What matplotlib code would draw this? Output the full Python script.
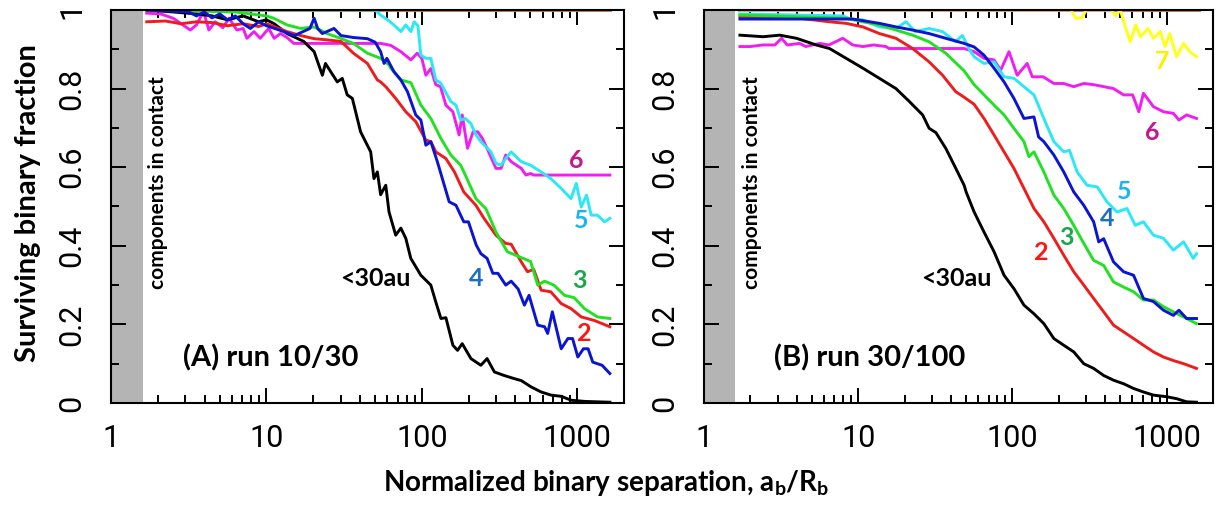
import numpy as np
import matplotlib
matplotlib.use("Agg")
import matplotlib.pyplot as plt
from matplotlib.ticker import LogLocator, MultipleLocator, NullFormatter, FixedLocator, FixedFormatter

plt.rcParams['font.family'] = ['Lato', 'DejaVu Sans']
plt.rcParams['mathtext.fontset'] = 'custom'
plt.rcParams['mathtext.bf'] = 'Lato:bold'
plt.rcParams['mathtext.rm'] = 'Lato:bold'
plt.rcParams['mathtext.it'] = 'Lato:bold'

# ---------------- data: log10(a_b/R_b) and surviving fraction ----------------
# Panel A: run 10/30
a_black_lx = [0.23, 0.4, 0.55, 0.65, 0.75, 0.85, 0.95, 1.0, 1.05, 1.133, 1.24, 1.307, 1.36, 1.38, 1.456, 1.488, 1.52, 1.553, 1.606, 1.671, 1.692, 1.714, 1.735, 1.768, 1.789, 1.832, 1.865, 1.897, 1.929, 1.994, 2.058, 2.09, 2.123, 2.155, 2.2, 2.23, 2.26, 2.316, 2.38, 2.42, 2.467, 2.53, 2.595, 2.64, 2.703, 2.768, 2.832, 2.897, 2.961, 3.05, 3.21]
a_black_y = [1.0, 0.995, 0.99, 0.985, 0.975, 0.985, 0.97, 0.975, 0.965, 0.94, 0.92, 0.894, 0.834, 0.864, 0.817, 0.826, 0.784, 0.775, 0.69, 0.639, 0.571, 0.588, 0.53, 0.554, 0.486, 0.427, 0.445, 0.419, 0.368, 0.325, 0.30, 0.257, 0.215, 0.217, 0.147, 0.134, 0.151, 0.113, 0.096, 0.113, 0.079, 0.07, 0.062, 0.057, 0.041, 0.028, 0.02, 0.017, 0.007, 0.004, 0.002]

a_red_lx = [0.23, 0.35, 0.45, 0.55, 0.65, 0.75, 0.85, 0.95, 1.0, 1.133, 1.22, 1.307, 1.39, 1.48, 1.56, 1.65, 1.714, 1.735, 1.77, 1.832, 1.897, 1.961, 2.026, 2.058, 2.09, 2.155, 2.21, 2.27, 2.348, 2.4, 2.477, 2.54, 2.575, 2.64, 2.68, 2.72, 2.768, 2.83, 2.897, 2.961, 3.026, 3.11, 3.21]
a_red_y = [0.97, 0.972, 0.965, 0.97, 0.968, 0.96, 0.965, 0.958, 0.965, 0.945, 0.935, 0.927, 0.924, 0.92, 0.89, 0.864, 0.822, 0.817, 0.804, 0.775, 0.741, 0.716, 0.669, 0.665, 0.639, 0.622, 0.588, 0.537, 0.503, 0.47, 0.427, 0.406, 0.404, 0.359, 0.334, 0.34, 0.287, 0.283, 0.253, 0.24, 0.219, 0.21, 0.194]

a_green_lx = [0.23, 0.8, 0.9, 1.0, 1.047, 1.133, 1.22, 1.307, 1.39, 1.477, 1.56, 1.65, 1.735, 1.79, 1.8, 1.865, 1.93, 1.994, 2.058, 2.123, 2.187, 2.25, 2.28, 2.348, 2.413, 2.477, 2.55, 2.64, 2.70, 2.746, 2.79, 2.85, 2.918, 2.98, 3.047, 3.13, 3.21]
a_green_y = [1.0, 0.995, 0.99, 0.985, 0.979, 0.962, 0.953, 0.957, 0.94, 0.928, 0.915, 0.89, 0.877, 0.86, 0.852, 0.822, 0.815, 0.758, 0.724, 0.673, 0.631, 0.605, 0.58, 0.52, 0.494, 0.435, 0.385, 0.37, 0.36, 0.30, 0.31, 0.30, 0.274, 0.268, 0.24, 0.219, 0.215]

a_blue_lx = [0.23, 0.5, 0.55, 0.6, 0.65, 0.7, 0.75, 0.8, 0.85, 0.897, 0.95, 1.0, 1.09, 1.18, 1.28, 1.307, 1.33, 1.36, 1.435, 1.48, 1.56, 1.65, 1.70, 1.735, 1.757, 1.775, 1.821, 1.865, 1.908, 1.961, 1.994, 2.026, 2.058, 2.1, 2.176, 2.22, 2.27, 2.30, 2.35, 2.38, 2.42, 2.457, 2.49, 2.54, 2.575, 2.62, 2.66, 2.69, 2.746, 2.79, 2.81, 2.84, 2.897, 2.94, 2.97, 3.004, 3.04, 3.07, 3.1, 3.16, 3.21]
a_blue_y = [1.0, 0.995, 0.985, 0.995, 0.98, 0.99, 0.975, 0.985, 0.965, 0.953, 0.97, 0.96, 0.948, 0.935, 0.953, 0.979, 0.953, 0.94, 0.953, 0.935, 0.93, 0.927, 0.918, 0.894, 0.864, 0.877, 0.843, 0.822, 0.792, 0.733, 0.72, 0.656, 0.665, 0.614, 0.512, 0.503, 0.461, 0.461, 0.402, 0.38, 0.368, 0.33, 0.33, 0.30, 0.31, 0.29, 0.249, 0.274, 0.198, 0.194, 0.177, 0.232, 0.138, 0.164, 0.164, 0.117, 0.138, 0.138, 0.104, 0.096, 0.075]

a_cyan_lx = [0.23, 1.70, 1.735, 1.78, 1.82, 1.865, 1.897, 1.93, 1.95, 1.975, 1.994, 2.026, 2.058, 2.09, 2.12, 2.155, 2.187, 2.22, 2.25, 2.28, 2.316, 2.348, 2.38, 2.445, 2.477, 2.51, 2.54, 2.575, 2.64, 2.70, 2.768, 2.83, 2.897, 2.96, 2.994, 3.026, 3.06, 3.09, 3.13, 3.176, 3.21]
a_cyan_y = [1.0, 1.0, 0.987, 0.975, 0.962, 0.945, 0.962, 0.945, 0.97, 0.96, 0.885, 0.877, 0.877, 0.822, 0.815, 0.79, 0.767, 0.758, 0.72, 0.724, 0.711, 0.682, 0.665, 0.639, 0.61, 0.605, 0.622, 0.639, 0.614, 0.605, 0.588, 0.571, 0.546, 0.52, 0.559, 0.499, 0.529, 0.478, 0.478, 0.461, 0.47]

a_mag_lx = [0.23, 0.32, 0.40, 0.51, 0.55, 0.595, 0.63, 0.67, 0.72, 0.76, 0.81, 0.85, 0.875, 0.92, 0.96, 1.015, 1.05, 1.09, 1.133, 1.176, 1.735, 1.8, 1.865, 1.93, 1.97, 2.0, 2.026, 2.058, 2.09, 2.12, 2.155, 2.2, 2.24, 2.26, 2.294, 2.33, 2.36, 2.39, 2.42, 2.477, 2.51, 2.54, 2.575, 2.64, 2.67, 2.70, 2.72, 3.21]
a_mag_y = [0.992, 0.99, 0.979, 0.949, 0.962, 0.996, 0.949, 0.97, 0.955, 0.979, 0.949, 0.953, 0.928, 0.945, 0.928, 0.953, 0.928, 0.94, 0.93, 0.915, 0.915, 0.91, 0.894, 0.873, 0.89, 0.877, 0.834, 0.851, 0.81, 0.805, 0.758, 0.741, 0.682, 0.733, 0.648, 0.69, 0.69, 0.673, 0.648, 0.597, 0.597, 0.631, 0.614, 0.597, 0.58, 0.584, 0.58, 0.58]

orange_lx = [0.23, 3.21]
orange_y = [1.0, 1.0]

# Panel B: run 30/100
b_black_lx = [0.233, 0.383, 0.491, 0.6, 0.728, 0.814, 0.922, 1.03, 1.138, 1.245, 1.332, 1.418, 1.46, 1.504, 1.568, 1.633, 1.687, 1.70, 1.752, 1.816, 1.881, 1.946, 2.01, 2.075, 2.14, 2.204, 2.269, 2.333, 2.398, 2.463, 2.527, 2.592, 2.656, 2.721, 2.786, 2.85, 2.915, 3.0, 3.065, 3.13, 3.194]
b_black_y = [0.936, 0.932, 0.936, 0.928, 0.911, 0.902, 0.877, 0.852, 0.826, 0.80, 0.767, 0.733, 0.699, 0.688, 0.648, 0.597, 0.554, 0.537, 0.486, 0.435, 0.385, 0.325, 0.291, 0.249, 0.227, 0.202, 0.164, 0.147, 0.13, 0.10, 0.088, 0.07, 0.058, 0.049, 0.037, 0.028, 0.02, 0.016, 0.011, 0.003, 0.002]

b_red_lx = [0.233, 0.6, 0.814, 0.922, 1.03, 1.138, 1.245, 1.353, 1.46, 1.547, 1.633, 1.68, 1.752, 1.816, 1.881, 1.946, 2.01, 2.075, 2.14, 2.204, 2.269, 2.333, 2.398, 2.463, 2.527, 2.592, 2.656, 2.721, 2.786, 2.85, 2.915, 2.98, 3.044, 3.11, 3.194]
b_red_y = [0.983, 0.98, 0.97, 0.966, 0.957, 0.94, 0.928, 0.902, 0.868, 0.834, 0.792, 0.78, 0.76, 0.724, 0.682, 0.639, 0.597, 0.546, 0.495, 0.461, 0.419, 0.376, 0.334, 0.30, 0.266, 0.232, 0.198, 0.181, 0.164, 0.147, 0.13, 0.117, 0.108, 0.10, 0.088]

b_green_lx = [0.233, 0.922, 1.03, 1.138, 1.245, 1.353, 1.46, 1.568, 1.687, 1.752, 1.816, 1.881, 1.946, 2.01, 2.075, 2.107, 2.14, 2.204, 2.269, 2.333, 2.398, 2.463, 2.527, 2.592, 2.656, 2.721, 2.786, 2.85, 2.915, 2.98, 3.044, 3.11, 3.194]
b_green_y = [0.987, 0.979, 0.97, 0.962, 0.949, 0.936, 0.919, 0.89, 0.845, 0.81, 0.784, 0.758, 0.733, 0.699, 0.665, 0.627, 0.639, 0.588, 0.529, 0.495, 0.452, 0.406, 0.363, 0.35, 0.308, 0.295, 0.283, 0.262, 0.262, 0.245, 0.232, 0.219, 0.202]

b_blue_lx = [0.233, 0.965, 1.138, 1.245, 1.353, 1.46, 1.568, 1.687, 1.752, 1.816, 1.881, 1.946, 2.01, 2.075, 2.14, 2.17, 2.204, 2.269, 2.333, 2.398, 2.463, 2.527, 2.56, 2.592, 2.656, 2.721, 2.786, 2.85, 2.915, 2.98, 3.044, 3.08, 3.13, 3.194]
b_blue_y = [0.977, 0.977, 0.966, 0.957, 0.949, 0.94, 0.928, 0.915, 0.906, 0.885, 0.852, 0.817, 0.775, 0.724, 0.728, 0.677, 0.665, 0.631, 0.588, 0.537, 0.503, 0.461, 0.41, 0.418, 0.359, 0.334, 0.325, 0.266, 0.258, 0.236, 0.223, 0.236, 0.215, 0.215]

b_cyan_lx = [0.233, 0.9, 0.965, 1.03, 1.138, 1.245, 1.31, 1.37, 1.46, 1.547, 1.63, 1.676, 1.72, 1.752, 1.816, 1.881, 1.946, 2.01, 2.075, 2.14, 2.204, 2.269, 2.333, 2.37, 2.42, 2.484, 2.55, 2.613, 2.678, 2.743, 2.797, 2.85, 2.915, 2.98, 3.044, 3.11, 3.173, 3.194]
b_cyan_y = [0.99, 0.985, 0.975, 0.975, 0.957, 0.953, 0.97, 0.945, 0.953, 0.945, 0.92, 0.935, 0.9, 0.881, 0.864, 0.868, 0.83, 0.826, 0.805, 0.784, 0.724, 0.665, 0.639, 0.643, 0.588, 0.554, 0.55, 0.512, 0.486, 0.495, 0.452, 0.461, 0.427, 0.419, 0.389, 0.41, 0.368, 0.38]

b_mag_lx = [0.233, 0.3, 0.38, 0.46, 0.503, 0.54, 0.62, 0.66, 0.75, 0.81, 0.90, 0.965, 1.03, 1.1, 1.18, 1.2, 1.687, 1.752, 1.816, 1.881, 1.924, 1.978, 2.031, 2.096, 2.129, 2.2, 2.269, 2.333, 2.398, 2.463, 2.527, 2.592, 2.656, 2.721, 2.78, 2.82, 2.85, 2.915, 2.98, 3.044, 3.08, 3.13, 3.194]
b_mag_y = [0.907, 0.907, 0.911, 0.911, 0.928, 0.911, 0.915, 0.907, 0.915, 0.911, 0.928, 0.911, 0.907, 0.911, 0.907, 0.902, 0.902, 0.894, 0.877, 0.873, 0.847, 0.894, 0.834, 0.864, 0.83, 0.83, 0.813, 0.813, 0.805, 0.813, 0.81, 0.805, 0.80, 0.784, 0.784, 0.741, 0.788, 0.754, 0.741, 0.737, 0.72, 0.733, 0.724]

b_yellow_lx = [0.233, 2.38, 2.41, 2.45, 2.48, 2.64, 2.67, 2.70, 2.73, 2.764, 2.8, 2.83, 2.88, 2.915, 2.96, 2.99, 3.02, 3.065, 3.11, 3.15, 3.194]
b_yellow_y = [1.0, 1.0, 0.979, 0.98, 1.0, 1.0, 0.985, 1.0, 0.96, 0.919, 0.962, 0.932, 0.953, 0.928, 0.945, 0.907, 0.94, 0.881, 0.915, 0.894, 0.881]

x_ticks = [1, 10, 100, 1000]
x_ticklabels = ["1", "10", "100", "1000"]
y_ticks = [0, 0.2, 0.4, 0.6, 0.8, 1.0]
y_ticklabels = ["0", "0.2", "0.4", "0.6", "0.8", "1"]

# colors
C_BLACK = "#000000"
C_RED = "#ee1c1c"
C_GREEN = "#22e022"
C_BLUE = "#0a14d2"
C_CYAN = "#2ae8f5"
C_MAG = "#f01ef0"
C_YEL = "#ffff1a"
C_ORANGE = "#c87d3c"

TICK_FONT = dict(family=['Roboto', 'DejaVu Sans'], weight='normal', size=22)
BOLD = dict(family=['Lato', 'DejaVu Sans'], weight='bold')

fig = plt.figure(figsize=(12.21, 5.08), dpi=100)
axA = fig.add_axes([111/1221, 1-403/508, 513/1221, 393/508])
axB = fig.add_axes([704/1221, 1-403/508, 509/1221, 393/508])

def lx(v):
    return 10 ** np.asarray(v)

def setup(ax):
    ax.set_xscale('log')
    ax.set_xlim(1, 2000)
    ax.set_ylim(0, 1)
    ax.axvspan(1, 1.6, color='#b4b4b4', zorder=0, lw=0)
    ax.xaxis.set_major_locator(FixedLocator(x_ticks))
    ax.xaxis.set_major_formatter(FixedFormatter(x_ticklabels))
    ax.xaxis.set_minor_locator(LogLocator(base=10, subs=np.arange(2, 10), numticks=20))
    ax.xaxis.set_minor_formatter(NullFormatter())
    ax.yaxis.set_major_locator(FixedLocator(y_ticks))
    ax.yaxis.set_major_formatter(FixedFormatter(y_ticklabels))
    ax.yaxis.set_minor_locator(MultipleLocator(0.1))
    ax.tick_params(which='both', direction='in', top=True, right=True, width=1.4, color='black')
    ax.tick_params(which='major', length=11)
    ax.tick_params(which='minor', length=6)
    ax.tick_params(axis='x', which='major', pad=15)
    ax.tick_params(axis='y', which='major', pad=18)
    for lab in ax.get_xticklabels():
        lab.set_fontproperties(matplotlib.font_manager.FontProperties(**TICK_FONT))
    for lab in ax.get_yticklabels():
        lab.set_fontproperties(matplotlib.font_manager.FontProperties(**TICK_FONT))
        lab.set_rotation(90)
        lab.set_va('center')
    for s in ax.spines.values():
        s.set_linewidth(1.5)
        s.set_zorder(5)

LW = 2.1
setup(axA)
axA.plot(lx(orange_lx), orange_y, color=C_ORANGE, lw=LW, zorder=2)
axA.plot(lx(a_mag_lx), a_mag_y, color=C_MAG, lw=LW, zorder=3)
axA.plot(lx(a_cyan_lx), a_cyan_y, color=C_CYAN, lw=LW, zorder=3)
axA.plot(lx(a_black_lx), a_black_y, color=C_BLACK, lw=LW, zorder=3)
axA.plot(lx(a_red_lx), a_red_y, color=C_RED, lw=LW, zorder=3)
axA.plot(lx(a_green_lx), a_green_y, color=C_GREEN, lw=LW, zorder=3)
axA.plot(lx(a_blue_lx), a_blue_y, color=C_BLUE, lw=LW, zorder=3)

setup(axB)
axB.plot(lx(orange_lx), orange_y, color=C_ORANGE, lw=LW, zorder=2)
axB.plot(lx(b_yellow_lx), b_yellow_y, color=C_YEL, lw=LW, zorder=3)
axB.plot(lx(b_mag_lx), b_mag_y, color=C_MAG, lw=LW, zorder=3)
axB.plot(lx(b_cyan_lx), b_cyan_y, color=C_CYAN, lw=LW, zorder=3)
axB.plot(lx(b_black_lx), b_black_y, color=C_BLACK, lw=LW, zorder=3)
axB.plot(lx(b_red_lx), b_red_y, color=C_RED, lw=LW, zorder=3)
axB.plot(lx(b_green_lx), b_green_y, color=C_GREEN, lw=LW, zorder=3)
axB.plot(lx(b_blue_lx), b_blue_y, color=C_BLUE, lw=LW, zorder=3)

LAB = 18
def lab(ax, x, y, s, c, size=LAB, **kw):
    ax.text(x, y, s, color=c, fontsize=size, ha='center', va='center', **BOLD, **kw)

# panel A labels
lab(axA, 986, 0.618, "6", "#c8168c")
lab(axA, 1060, 0.465, "5", "#1ab4f5")
lab(axA, 1030, 0.312, "3", "#1aa64b")
lab(axA, 1110, 0.177, "2", "#ff1414")
lab(axA, 223, 0.318, "4", "#1f6fc0")
lab(axA, 50, 0.318, "<30au", "black")
lab(axA, 10.6, 0.114, "(A) run 10/30", "black", size=21)
lab(axA, 2.01, 0.562, "components in contact", "black", size=15, rotation=90)

# panel B labels
lab(axB, 153, 0.384, "2", "#ff1414")
lab(axB, 225, 0.422, "3", "#1aa64b")
lab(axB, 409, 0.47, "4", "#1f6fc0")
lab(axB, 535, 0.537, "5", "#1ab4f5")
lab(axB, 811, 0.689, "6", "#c8168c")
lab(axB, 941, 0.868, "7", "#ffee00")
lab(axB, 43.2, 0.318, "<30au", "black")
lab(axB, 11.8, 0.114, "(B) run 30/100", "black", size=21)
lab(axB, 2.04, 0.562, "components in contact", "black", size=15, rotation=90)

fig.text(28/1221, 1-203/508, "Surviving binary fraction", rotation=90, ha='center', va='center',
         fontsize=21, **BOLD)
fig.text(606/1221, 1-483/508, r"Normalized binary separation, a$_\mathbf{b}$/R$_\mathbf{b}$",
         ha='center', va='center', fontsize=20, **BOLD)

fig.savefig("out.png", dpi=100)
